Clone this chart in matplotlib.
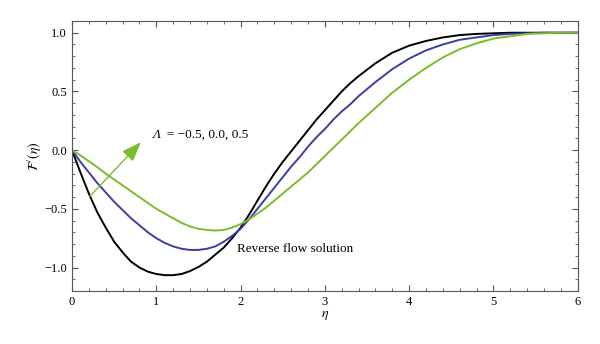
import numpy as np
import matplotlib
matplotlib.use("Agg")
from matplotlib import pyplot as plt
from matplotlib.ticker import MultipleLocator

plt.rcParams['font.family'] = ['Liberation Serif', 'DejaVu Serif']
plt.rcParams['mathtext.fontset'] = 'stix'

# velocity profiles F'(eta) for Lambda = -0.5, 0.0, 0.5
eta = [0.0, 0.1, 0.2, 0.3, 0.4, 0.5, 0.6, 0.7, 0.8, 0.9,
       1.0, 1.1, 1.2, 1.3, 1.4, 1.5, 1.6, 1.7, 1.8, 1.9,
       2.0, 2.1, 2.2, 2.3, 2.4, 2.5, 2.6, 2.7, 2.8, 2.9,
       3.0, 3.1, 3.2, 3.3, 3.4, 3.6, 3.8, 4.0, 4.2, 4.4,
       4.6, 4.8, 5.0, 5.2, 5.4, 5.6, 5.8, 6.0]

f_black = [0, -0.19, -0.37, -0.53, -0.66, -0.78, -0.87, -0.95, -1.00, -1.035,
           -1.055, -1.065, -1.065, -1.055, -1.03, -0.995, -0.95, -0.89, -0.83, -0.75,
           -0.66, -0.55, -0.43, -0.31, -0.20, -0.10, -0.01, 0.08, 0.17, 0.26,
           0.34, 0.42, 0.50, 0.57, 0.63, 0.74, 0.83, 0.89, 0.93, 0.96,
           0.98, 0.99, 0.995, 1.0, 1.0, 1.0, 1.0, 1.0]
f_blue = [0, -0.10, -0.19, -0.28, -0.36, -0.44, -0.51, -0.58, -0.64, -0.70,
          -0.75, -0.79, -0.82, -0.84, -0.85, -0.85, -0.84, -0.82, -0.78, -0.73,
          -0.67, -0.59, -0.50, -0.41, -0.32, -0.23, -0.14, -0.06, 0.03, 0.11,
          0.18, 0.26, 0.33, 0.39, 0.46, 0.58, 0.69, 0.78, 0.85, 0.90,
          0.94, 0.96, 0.98, 0.99, 0.995, 1.0, 1.0, 1.0]
f_green = [0, -0.045, -0.095, -0.145, -0.20, -0.25, -0.30, -0.35, -0.40, -0.45,
           -0.50, -0.54, -0.58, -0.62, -0.65, -0.67, -0.68, -0.685, -0.68, -0.66,
           -0.63, -0.59, -0.54, -0.49, -0.43, -0.37, -0.31, -0.25, -0.19, -0.12,
           -0.05, 0.02, 0.09, 0.16, 0.23, 0.36, 0.49, 0.60, 0.70, 0.79,
           0.86, 0.91, 0.95, 0.97, 0.99, 0.995, 1.0, 1.0]

fig = plt.figure(figsize=(6, 3.44), dpi=100)
ax = fig.add_axes([0.12, 0.154, 0.843, 0.785])

ax.plot(eta, f_black, color='black', lw=1.4)
ax.plot(eta, f_blue, color='#3b3fa3', lw=1.4)
ax.plot(eta, f_green, color='#7cbb2c', lw=1.4)

ax.set_xlim(0, 6)
ax.set_ylim(-1.2, 1.1)
ax.set_xticks([0, 1, 2, 3, 4, 5, 6])
ax.set_xticklabels(['0', '1', '2', '3', '4', '5', '6'])
ax.set_yticks([-1.0, -0.5, 0.0, 0.5, 1.0])
ax.set_yticklabels(['\u22121.0', '\u22120.5', '0.0', '0.5', '1.0'])
ax.xaxis.set_minor_locator(MultipleLocator(0.2))
ax.yaxis.set_minor_locator(MultipleLocator(0.1))
ax.tick_params(which='both', direction='in', top=True, right=True,
               labelsize=9, color='#555555')
ax.tick_params(which='major', length=4)
ax.tick_params(which='minor', length=2)
for s in ax.spines.values():
    s.set_color('#555555')

ax.set_xlabel(r'$\eta$', fontsize=10, labelpad=1)
ax.set_ylabel(r"$\mathcal{F}^{\prime}(\eta)$", fontsize=10, labelpad=0)

ax.annotate('', xy=(0.84, 0.085), xytext=(0.19, -0.41),
            arrowprops=dict(arrowstyle='-|>,head_length=1.2,head_width=0.45',
                            color='#7cbb2c', lw=1.0))
lam = ax.text(0.95, 0.13, '\u039b', fontsize=9.5, fontstyle='italic',
              va='center', ha='left')
ax.annotate('  = \u22120.5, 0.0, 0.5', xy=(1, 0.5), xycoords=lam,
            fontsize=9.5, va='center', ha='left')
ax.text(1.96, -0.84, 'Reverse flow solution', fontsize=9.5, va='center', ha='left')

fig.savefig('out.png', dpi=100)
